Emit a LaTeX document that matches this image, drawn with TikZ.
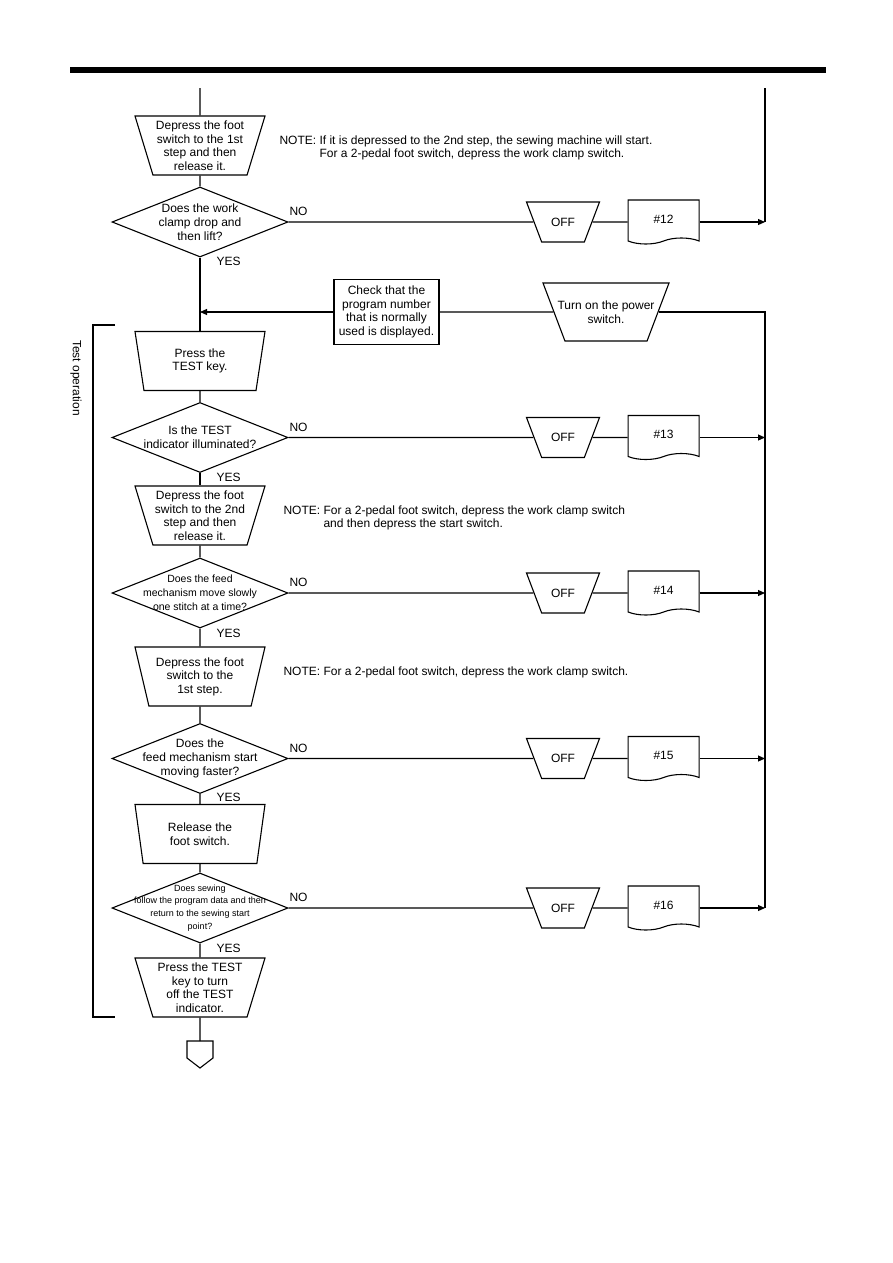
\documentclass[tikz,border=0pt]{standalone}
\usepackage{fontspec}
\setmainfont{Liberation Sans}
\usetikzlibrary{positioning,arrows.meta,shapes.geometric,shapes.symbols}

\newcommand{\boxfont}{\fontsize{12}{13.5}\selectfont}
\newcommand{\askfont}{\fontsize{12}{14}\selectfont}

\begin{document}
\begin{tikzpicture}[
  x=1pt, y=-1pt,
  manop/.style={trapezium, draw, shape border rotate=180,
                trapezium left angle=70, trapezium right angle=70,
                trapezium stretches body, minimum width=130pt,
                minimum height=59pt, inner xsep=-4pt, inner ysep=0pt,
                align=center, font=\boxfont},
  offop/.style={manop, trapezium left angle=69, trapezium right angle=69,
                minimum width=73pt, minimum height=40pt, inner ysep=15.5pt},
  decision/.style={diamond, draw, aspect=2.5, minimum width=176pt,
                   minimum height=70pt, inner xsep=-45pt, inner ysep=-14pt,
                   align=center, font=\askfont},
  docu/.style={tape, draw, tape bend top=none, tape bend bottom=in and out,
               tape bend height=6pt, minimum width=71pt, minimum height=44pt,
               inner sep=0pt, font=\boxfont},
  checkbox/.style={rectangle, draw, minimum width=105pt, minimum height=65pt,
                   inner sep=0pt, align=center, font=\boxfont},
  lbl/.style={inner sep=0pt, anchor=west, font=\boxfont},
  note/.style={inner sep=0pt, anchor=west, align=left, font=\boxfont},
  >={Triangle[length=7pt,width=6pt]}, line width=1.1pt
]
  \useasboundingbox (0,0) rectangle (893,1263);
  \draw[line width=6pt] (70,70) -- (826,70);

  % main column
  \node[manop] (push1) at (200,145.5) {Depress the foot\\switch to the 1st\\step and then\\release it.};
  \node[decision] (clamp) at (200,222) {Does the work\\clamp drop and\\then lift?};
  \node[manop] (testkey) at (200,361) {Press the\\TEST key.};
  \node[decision] (lamp) at (200,437.5) {Is the TEST\\indicator illuminated?};
  \node[manop] (push2) at (200,515.5) {Depress the foot\\switch to the 2nd\\step and then\\release it.};
  \node[decision, font=\fontsize{10.5}{14}\selectfont] (slow) at (200,593) {Does the feed\\mechanism move slowly\\one stitch at a time?};
  \node[manop] (push3) at (200,676.5) {Depress the foot\\switch to the\\1st step.};
  \node[decision] (fast) at (200,758.5) {Does the\\feed mechanism start\\moving faster?};
  \node[manop] (release) at (200,834) {Release the\\foot switch.};
  \node[decision, font=\fontsize{9}{12.8}\selectfont] (sewn) at (200,908) {Does sewing\\follow the program data and then\\return to the sewing start\\point?};
  \node[manop] (testoff) at (200,987.5) {Press the TEST\\key to turn\\off the TEST\\indicator.};
  \coordinate (mtop) at (200,88);
  \coordinate (offp) at (200,1041);

  % NO branches
  \node[offop] (off1) at (563,222) {OFF};
  \node[docu, right=35pt of off1, yshift=3pt] (doc1) {\#12};
  \node[offop] (off2) at (563,437.5) {OFF};
  \node[docu, right=35pt of off2, yshift=3pt] (doc2) {\#13};
  \node[offop] (off3) at (563,593) {OFF};
  \node[docu, right=35pt of off3, yshift=3pt] (doc3) {\#14};
  \node[offop] (off4) at (563,758.5) {OFF};
  \node[docu, right=35pt of off4, yshift=3pt] (doc4) {\#15};
  \node[offop] (off5) at (563,908) {OFF};
  \node[docu, right=35pt of off5, yshift=3pt] (doc5) {\#16};
  \coordinate (rtop) at (765,88);

  % restart
  \node[manop, trapezium left angle=68, trapezium right angle=68,
        minimum width=126pt, minimum height=58pt, inner xsep=-10pt,
        inner ysep=16pt] (power) at (606,312) {Turn on the power\\switch.};
  \node[checkbox] (check) at (386.5,312) {Check that the\\program number\\that is normally\\used is displayed.};

  % notes and labels
  \node[note] (note1) at (279,148) {NOTE: If it is depressed to the 2nd step, the sewing machine will start.\\\phantom{NOTE: }For a 2-pedal foot switch, depress the work clamp switch.};
  \node[note] (note2) at (283,518) {NOTE: For a 2-pedal foot switch, depress the work clamp switch\\\phantom{NOTE: }and then depress the start switch.};
  \node[note] (note3) at (283,672) {NOTE: For a 2-pedal foot switch, depress the work clamp switch.};
  \node[font=\boxfont, rotate=-90] (testop) at (76,378) {Test operation};

  \node[lbl] (no1) at (289,211.5) {NO};
  \node[lbl] (yes1) at (216,261) {YES};
  \node[lbl] (no2) at (289,427) {NO};
  \node[lbl] (yes2) at (216,477) {YES};
  \node[lbl] (no3) at (289,582.5) {NO};
  \node[lbl] (yes3) at (216,633) {YES};
  \node[lbl] (no4) at (289,748) {NO};
  \node[lbl] (yes4) at (216,797) {YES};
  \node[lbl] (no5) at (289,897.5) {NO};
  \node[lbl] (yes5) at (216,948) {YES};

  % connectors
  \draw (mtop) -- (push1);
  \draw (push1) -- (clamp);
  \draw (clamp) -- (testkey);
  \draw (testkey) -- (lamp);
  \draw (lamp) -- (push2);
  \draw (push2) -- (slow);
  \draw (slow) -- (push3);
  \draw (push3) -- (fast);
  \draw (fast) -- (release);
  \draw (release) -- (sewn);
  \draw (sewn) -- (testoff);
  \draw (testoff) -- (offp);
  \draw (offp) -- ++(13,0) -- ++(0,17) -- ++(-13,10) -- ++(-13,-10) -- ++(0,-17) -- cycle;

  \draw (clamp) -- (off1);
  \draw (off1) -- (off1 -| doc1.west);
  \draw[->] (off1 -| doc1.east) -- (off1 -| rtop);
  \draw (lamp) -- (off2);
  \draw (off2) -- (off2 -| doc2.west);
  \draw[->] (off2 -| doc2.east) -- (off2 -| rtop);
  \draw (slow) -- (off3);
  \draw (off3) -- (off3 -| doc3.west);
  \draw[->] (off3 -| doc3.east) -- (off3 -| rtop);
  \draw (fast) -- (off4);
  \draw (off4) -- (off4 -| doc4.west);
  \draw[->] (off4 -| doc4.east) -- (off4 -| rtop);
  \draw (sewn) -- (off5);
  \draw (off5) -- (off5 -| doc5.west);
  \draw[->] (off5 -| doc5.east) -- (off5 -| rtop);

  \draw (rtop) -- (off1 -| rtop);
  \draw (power) -- (check);
  \draw[->] (check) -- (check -| clamp);
  \draw (power) -- (power -| rtop) -- (sewn -| rtop);

  % bracket
  \draw (115,325) -- (93,325) -- (93,1017) -- (115,1017);
\end{tikzpicture}
\end{document}
